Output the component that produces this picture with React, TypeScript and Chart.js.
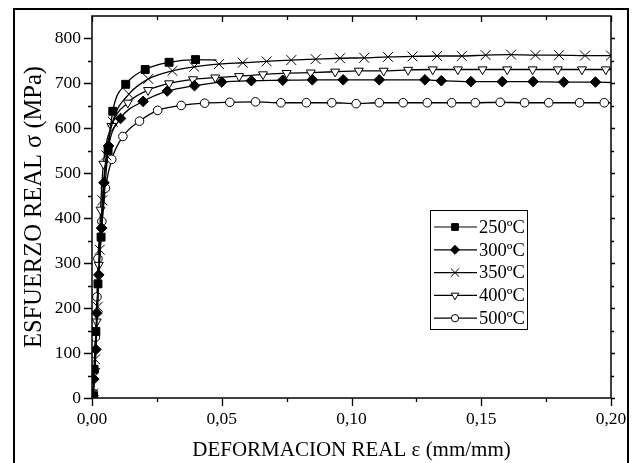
import React, { useEffect, useRef } from 'react';
import { Chart, registerables } from 'chart.js';
import { drawPoint } from 'chart.js/helpers';

Chart.register(...registerables);

// ---- data ----
const seriesLabels = ['250ºC', '300ºC', '350ºC', '400ºC', '500ºC'];

const eps250 = [0.0005, 0.0008, 0.0015, 0.0023, 0.0035, 0.0062, 0.008, 0.013, 0.0205, 0.0297, 0.0399, 0.048];
const sig250 = [4, 64, 148, 254, 358, 551, 638, 698, 731, 747, 753, 752];

const eps300 = [0.0004, 0.0007, 0.0015, 0.0019, 0.0026, 0.0037, 0.0046, 0.0064, 0.011, 0.0197, 0.029, 0.0395, 0.050, 0.0614, 0.0735, 0.0849, 0.0968, 0.1107, 0.1283, 0.1346, 0.146, 0.1581, 0.170, 0.1818, 0.194, 0.200];
const sig300 = [5, 42, 108, 189, 274, 378, 479, 561, 622, 660, 683, 695, 703, 706, 707, 708, 708, 708, 708, 706, 704, 704, 704, 703, 703, 702];

const eps350 = [0.0004, 0.0012, 0.0022, 0.0030, 0.0040, 0.0055, 0.0080, 0.0142, 0.0217, 0.031, 0.0394, 0.0489, 0.0581, 0.0673, 0.0768, 0.0862, 0.0956, 0.1049, 0.1141, 0.1235, 0.133, 0.1425, 0.1517, 0.1615, 0.1709, 0.180, 0.190, 0.200];
const sig350 = [10, 86, 203, 330, 440, 540, 615, 676, 710, 728, 737, 743, 746, 749, 752, 754, 756, 757, 759, 760, 761, 761, 763, 764, 763, 763, 762, 762];

const eps400 = [0.0004, 0.0012, 0.0018, 0.0026, 0.0033, 0.0044, 0.0075, 0.0138, 0.0216, 0.0297, 0.0389, 0.0475, 0.0567, 0.0659, 0.075, 0.0843, 0.0937, 0.1028, 0.1124, 0.1218, 0.1313, 0.141, 0.1505, 0.160, 0.1698, 0.1795, 0.1888, 0.198, 0.200];
const sig400 = [10, 60, 170, 296, 419, 521, 605, 657, 685, 700, 709, 713, 716, 720, 723, 724, 726, 728, 728, 730, 731, 731, 731, 731, 731, 731, 731, 731, 731];

const eps500 = [0.0005, 0.0009, 0.0013, 0.0019, 0.0023, 0.0038, 0.0052, 0.0076, 0.0119, 0.0183, 0.0253, 0.0344, 0.0434, 0.0531, 0.063, 0.0728, 0.0826, 0.0924, 0.1018, 0.1107, 0.1199, 0.1292, 0.1386, 0.1477, 0.1573, 0.1667, 0.176, 0.1879, 0.1974, 0.200];
const sig500 = [10, 60, 135, 225, 310, 393, 467, 531, 582, 616, 640, 651, 656, 658, 659, 657, 657, 657, 655, 657, 657, 657, 657, 657, 658, 657, 657, 657, 657, 657];

// whether the last point of each series is a plain line end (no marker)
const tailNoMarker = [true, true, false, true, true];

const xMin = 0, xMax = 0.2, xMajor = 0.05, xMinor = 0.025;
const yMin = 0, yMax = 850, yMajor = 100, yMinor = 50, yTop = 800;

const FONT = '"Liberation Serif", "Times New Roman", serif';

const pairs = (xs: number[], ys: number[]) => xs.map((x, i) => ({ x, y: ys[i] }));

const styles = [
  { pointStyle: 'rect', radius: 5.6, fill: '#000', rotation: 0 },
  { pointStyle: 'rectRot', radius: 5.3, fill: '#000', rotation: 0 },
  { pointStyle: 'crossRot', radius: 7, fill: '#fff', rotation: 0 },
  { pointStyle: 'triangle', radius: 5.2, fill: '#fff', rotation: 180 },
  { pointStyle: 'circle', radius: 4.3, fill: '#fff', rotation: 0 },
];

const seriesData = [
  pairs(eps250, sig250),
  pairs(eps300, sig300),
  pairs(eps350, sig350),
  pairs(eps400, sig400),
  pairs(eps500, sig500),
];

const framePlugin = {
  id: 'frameTicks',
  afterDraw(chart: any) {
    const { ctx, chartArea: a, scales } = chart;
    const xs = scales.x, ys = scales.y;
    ctx.save();
    // outer figure border
    ctx.strokeStyle = '#000';
    ctx.lineWidth = 2;
    ctx.strokeRect(14, 9, 614, 480);
    // plot frame
    ctx.lineWidth = 1.5;
    ctx.strokeRect(a.left, a.top, a.right - a.left, a.bottom - a.top);
    ctx.lineWidth = 1.3;
    ctx.beginPath();
    const nx = Math.round((xMax - xMin) / xMinor);
    for (let i = 0; i <= nx; i++) {
      const v = xMin + i * xMinor;
      const major = i % Math.round(xMajor / xMinor) === 0;
      const px = Math.round(xs.getPixelForValue(v)) + 0.5;
      const L = major ? 8 : 4;
      ctx.moveTo(px, a.bottom); ctx.lineTo(px, a.bottom + L);
      ctx.moveTo(px, a.top); ctx.lineTo(px, a.top + (major ? 6 : 4));
    }
    const ny = Math.round((yMax - yMin) / yMinor);
    for (let i = 0; i <= ny; i++) {
      const v = yMin + i * yMinor;
      if (v > yTop) continue;
      const major = i % Math.round(yMajor / yMinor) === 0;
      const py = Math.round(ys.getPixelForValue(v)) + 0.5;
      const L = major ? 8 : 4;
      ctx.moveTo(a.left, py); ctx.lineTo(a.left - L, py);
      ctx.moveTo(a.right, py); ctx.lineTo(a.right + (major ? 4 : 3), py);
    }
    ctx.stroke();

    // legend box
    const bx = 430, by = 210, bw = 97, bh = 119;
    ctx.fillStyle = '#fff';
    ctx.fillRect(bx, by, bw, bh);
    ctx.lineWidth = 1;
    ctx.strokeRect(bx + 0.5, by + 0.5, bw, bh);
    ctx.font = `18.5px ${FONT}`;
    ctx.textBaseline = 'middle';
    ctx.textAlign = 'left';
    chart.data.datasets.forEach((ds: any, i: number) => {
      const ry = by + 17 + i * 22.8;
      ctx.strokeStyle = '#000';
      ctx.lineWidth = 1.2;
      ctx.beginPath();
      ctx.moveTo(bx + 4, ry); ctx.lineTo(bx + 47, ry);
      ctx.stroke();
      const st = styles[i];
      ctx.fillStyle = st.fill;
      ctx.strokeStyle = '#000';
      ctx.lineWidth = 1;
      drawPoint(ctx, { pointStyle: st.pointStyle as any, radius: st.radius * 0.85, rotation: st.rotation, borderWidth: 1 }, bx + 25, ry);
      ctx.fillStyle = '#000';
      ctx.fillText(ds.label, bx + 49, ry + 1);
    });
    ctx.restore();
  },
};

export default function App() {
  const ref = useRef<HTMLCanvasElement | null>(null);
  useEffect(() => {
    if (!ref.current) return;
    const datasets = seriesData.map((d, i) => {
      const st = styles[i];
      const last = d.length - 1;
      return {
        label: seriesLabels[i],
        data: d,
        borderColor: '#000',
        borderWidth: 1.3,
        backgroundColor: st.fill,
        pointStyle: st.pointStyle,
        pointRotation: st.rotation,
        pointBorderColor: '#000',
        pointBackgroundColor: st.fill,
        pointBorderWidth: 1,
        pointRadius: (c: any) => (tailNoMarker[i] && c.dataIndex === last ? 0 : st.radius),
        pointHoverRadius: st.radius,
        cubicInterpolationMode: 'monotone' as const,
        fill: false,
      };
    });
    const chart = new Chart(ref.current, {
      type: 'line',
      data: { datasets: datasets as any },
      options: {
        animation: false,
        responsive: false,
        devicePixelRatio: 1,
        layout: { padding: { left: 0, top: 16, right: 23, bottom: 0 } },
        plugins: { legend: { display: false }, tooltip: { enabled: false } },
        scales: {
          x: {
            type: 'linear',
            min: xMin,
            max: xMax,
            afterFit: (s: any) => { s.height = 65; },
            border: { display: false },
            grid: { display: true, drawOnChartArea: false, drawTicks: true, tickLength: 8, tickColor: 'rgba(0,0,0,0)' },
            ticks: {
              stepSize: xMajor,
              color: '#000',
              padding: 3,
              maxRotation: 0,
              font: { family: FONT, size: 17.5 },
              callback: (v: any) => Number(v).toFixed(2).replace('.', ','),
            },
            title: {
              display: true,
              text: 'DEFORMACION REAL ε (mm/mm)',
              color: '#000',
              font: { family: FONT, size: 21 },
              padding: { top: 0, bottom: 0 },
            },
          },
          y: {
            type: 'linear',
            min: yMin,
            max: yMax,
            afterFit: (s: any) => { s.width = 92; },
            afterBuildTicks: (s: any) => { s.ticks = s.ticks.filter((t: any) => t.value % yMajor === 0 && t.value <= yTop); },
            border: { display: false },
            grid: { display: true, drawOnChartArea: false, drawTicks: true, tickLength: 8, tickColor: 'rgba(0,0,0,0)' },
            ticks: {
              stepSize: yMajor,
              color: '#000',
              padding: 3,
              font: { family: FONT, size: 17.5 },
            },
            title: {
              display: true,
              text: 'ESFUERZO REAL σ (MPa)',
              color: '#000',
              font: { family: FONT, size: 24.5 },
              padding: { top: 20, bottom: 0 },
            },
          },
        },
      },
      plugins: [framePlugin],
    });
    return () => chart.destroy();
  }, []);
  return (
    <div style={{ position: 'fixed', left: 0, top: 0, width: 634, height: 463, background: '#fff' }}>
      <canvas ref={ref} width={634} height={463} style={{ display: 'block' }} />
    </div>
  );
}
